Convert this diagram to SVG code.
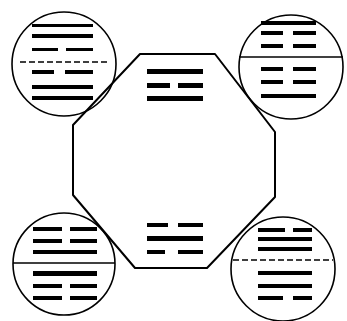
<svg xmlns="http://www.w3.org/2000/svg" width="347" height="321" viewBox="0 0 347 321">
<style>
.shape{fill:none;stroke:#000;stroke-width:2;stroke-linejoin:round}
.circ{fill:none;stroke:#000;stroke-width:1.6}
.div{stroke:#000;stroke-width:1.3;fill:none}
.dash{stroke-dasharray:6 3}
.bar{fill:#000}
</style>
<rect width="347" height="321" fill="#fff"/>
<g id="octagon">
<polygon class="shape" points="140,54 215,54 275,132 275,197 207,268 135,268 73,195 73,125"/>
<g id="octagon-top-text">
<rect class="bar" x="147" y="69" width="56" height="5"/>
<rect class="bar" x="147" y="83" width="23" height="5"/>
<rect class="bar" x="178" y="83" width="25" height="5"/>
<rect class="bar" x="147" y="96" width="56" height="5"/>
</g>
<g id="octagon-bottom-text">
<rect class="bar" x="147" y="223" width="21" height="4"/>
<rect class="bar" x="178" y="223" width="25" height="4"/>
<rect class="bar" x="147" y="236" width="56" height="5"/>
<rect class="bar" x="147" y="250" width="18" height="4"/>
<rect class="bar" x="178" y="250" width="25" height="4"/>
</g>
</g>
<g id="circle-top-left">
<circle class="circ" cx="64" cy="64" r="52"/>
<line class="div dash" x1="20" y1="62" x2="110" y2="62"/>
<rect class="bar" x="32" y="24" width="61" height="3"/>
<rect class="bar" x="32" y="34" width="61" height="4"/>
<rect class="bar" x="32" y="48" width="26" height="3"/>
<rect class="bar" x="66" y="48" width="27" height="3"/>
<rect class="bar" x="32" y="70" width="22" height="4"/>
<rect class="bar" x="65" y="70" width="28" height="4"/>
<rect class="bar" x="32" y="85" width="61" height="4"/>
<rect class="bar" x="32" y="96" width="61" height="4"/>
</g>
<g id="circle-top-right">
<circle class="circ" cx="291" cy="67" r="52"/>
<line class="div" x1="239" y1="57" x2="343" y2="57"/>
<rect class="bar" x="261" y="21" width="55" height="4"/>
<rect class="bar" x="261" y="31" width="22" height="4"/>
<rect class="bar" x="293" y="31" width="23" height="4"/>
<rect class="bar" x="261" y="44" width="22" height="4"/>
<rect class="bar" x="293" y="44" width="23" height="4"/>
<rect class="bar" x="261" y="67" width="22" height="4"/>
<rect class="bar" x="293" y="67" width="23" height="4"/>
<rect class="bar" x="261" y="80" width="22" height="4"/>
<rect class="bar" x="293" y="80" width="23" height="4"/>
<rect class="bar" x="261" y="94" width="55" height="4"/>
</g>
<g id="circle-bottom-left">
<circle class="circ" cx="64" cy="264" r="51"/>
<line class="div" x1="13" y1="263" x2="115" y2="263"/>
<rect class="bar" x="33" y="227" width="29" height="4"/>
<rect class="bar" x="70" y="227" width="27" height="4"/>
<rect class="bar" x="33" y="239" width="29" height="4"/>
<rect class="bar" x="70" y="239" width="27" height="4"/>
<rect class="bar" x="33" y="250" width="64" height="4"/>
<rect class="bar" x="33" y="271" width="64" height="5"/>
<rect class="bar" x="33" y="284" width="29" height="4"/>
<rect class="bar" x="70" y="284" width="27" height="4"/>
<rect class="bar" x="33" y="296" width="29" height="4"/>
<rect class="bar" x="70" y="296" width="27" height="4"/>
</g>
<g id="circle-bottom-right">
<circle class="circ" cx="283" cy="269" r="52"/>
<line class="div dash" x1="233" y1="260" x2="333" y2="260"/>
<rect class="bar" x="258" y="228" width="27" height="4"/>
<rect class="bar" x="293" y="228" width="19" height="4"/>
<rect class="bar" x="258" y="237" width="54" height="4"/>
<rect class="bar" x="258" y="247" width="54" height="4"/>
<rect class="bar" x="258" y="271" width="54" height="4"/>
<rect class="bar" x="258" y="284" width="54" height="4"/>
<rect class="bar" x="258" y="296" width="25" height="4"/>
<rect class="bar" x="293" y="296" width="19" height="4"/>
</g>
</svg>
